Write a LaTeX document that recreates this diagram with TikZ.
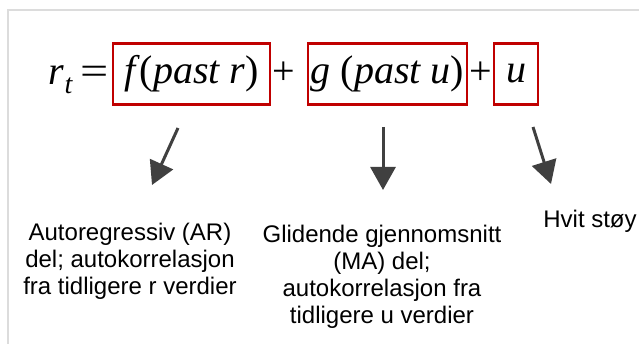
\documentclass[tikz,border=0pt]{standalone}
\usepackage{fontspec}
\setmainfont{Liberation Sans}
\newfontfamily\eqfont{Liberation Serif}
\usepackage{tikz}
\usetikzlibrary{arrows.meta,positioning}
\usepackage{xcolor}
\definecolor{boxred}{HTML}{C00000}
\definecolor{dark}{HTML}{404040}
\definecolor{framegray}{HTML}{DCDCDC}
\tikzset{
  eq/.style={inner sep=0pt, anchor=base, font=\eqfont\fontsize{40}{44}\selectfont},
  termbox/.style={draw=boxred, line width=2.8pt, inner sep=0pt, minimum height=61pt, font=\eqfont\fontsize{40}{44}\selectfont},
  desc/.style={align=center, inner sep=0pt, anchor=north, text=black, font=\fontsize{24}{27}\selectfont},
  arrow/.style={-{Triangle[length=23pt,width=25pt]}, line width=3pt, draw=dark}
}
\begin{document}
\begin{tikzpicture}[x=1pt, y=-1pt]
  \useasboundingbox (0,0) rectangle (639,344);
  \draw[framegray, line width=2pt] (8,344) -- (8,10.5) -- (639,10.5);
  % equation
  \node[eq] (rt) at (61,85) {\textit{r}\raisebox{-9pt}{\fontsize{28}{28}\selectfont\textit{t}}};
  \node[eq] (eqsign) at (95,85) {\scalebox{1.25}[1]{=}};
  \node[termbox, minimum width=157pt] (fpast) at (191.5,74) {\textit{f}(\textit{past r})};
  \node[eq] (plusa) at (284,85) {+};
  \node[termbox, minimum width=159pt] (gpast) at (387.5,74) {\textit{g} (\textit{past u})};
  \node[eq] (plusb) at (481,85) {+};
  \node[termbox, minimum width=44pt] (uterm) at (516,74) {\textit{u}};
  % labels
  \node[desc] (ar) at (130,222.5) {Autoregressiv (AR)\\del; autokorrelasjon\\fra tidligere r verdier};
  \node[desc] (ma) at (382,224.5) {Glidende gjennomsnitt\\(MA) del;\\autokorrelasjon fra\\tidligere u verdier};
  \node[desc] (noise) at (590,209.5) {Hvit støy};
  % arrows
  \coordinate (arstart) at (178,128);
  \coordinate (arend) at (152,185);
  \coordinate (mastart) at (383,127);
  \coordinate (maend) at (383,190);
  \coordinate (noisestart) at (533,127);
  \coordinate (noiseend) at (551,184);
  \draw[arrow] (arstart) -- (arend);
  \draw[arrow] (mastart) -- (maend);
  \draw[arrow] (noisestart) -- (noiseend);
\end{tikzpicture}
\end{document}
